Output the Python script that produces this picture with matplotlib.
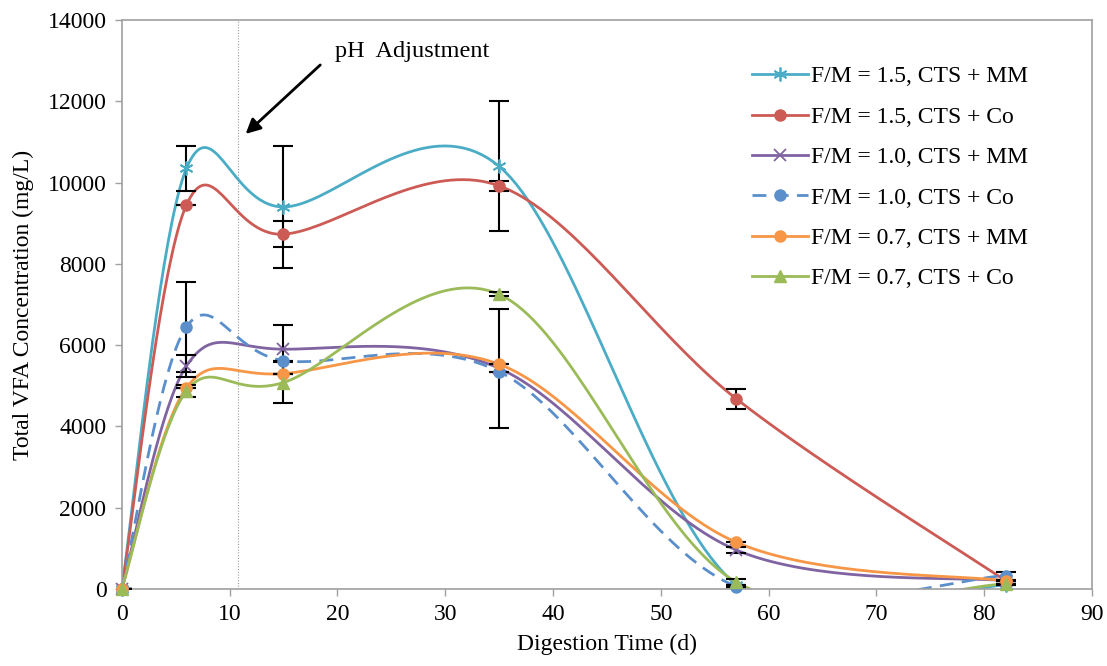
import numpy as np
import matplotlib
matplotlib.use("Agg")
import matplotlib.pyplot as plt

plt.rcParams["font.family"] = ["Liberation Serif", "DejaVu Serif"]

days = [0, 6, 15, 35, 57, 82]

labels = [
    "F/M = 1.5, CTS + MM",
    "F/M = 1.5, CTS + Co",
    "F/M = 1.0, CTS + MM",
    "F/M = 1.0, CTS + Co",
    "F/M = 0.7, CTS + MM",
    "F/M = 0.7, CTS + Co",
]

vfa_15_mm = [0, 10350, 9400, 10400, 100, 100]
vfa_15_co = [0, 9450, 8730, 9920, 4680, 200]
vfa_10_mm = [0, 5490, 5900, 5430, 960, 200]
vfa_10_co = [0, 6450, 5620, 5350, 60, 330]
vfa_07_mm = [0, 4950, 5300, 5530, 1150, 200]
vfa_07_co = [0, 4870, 5080, 7250, 170, 120]

err_15_mm = [0, 550, 1500, 1600, 0, 0]
err_15_co = [0, 0, 320, 120, 250, 0]
err_10_mm = [0, 270, 600, 1460, 80, 0]
err_10_co = [0, 1100, 0, 0, 0, 100]
err_07_mm = [0, 0, 0, 0, 0, 0]
err_07_co = [0, 150, 500, 50, 80, 0]

series = [vfa_15_mm, vfa_15_co, vfa_10_mm, vfa_10_co, vfa_07_mm, vfa_07_co]
errors = [err_15_mm, err_15_co, err_10_mm, err_10_co, err_07_mm, err_07_co]
colors = ["#4BACC6", "#CD5B55", "#8064A2", "#5B8FCB", "#F79646", "#9BBB59"]
markers = [(6, 2, 0), "o", "x", "o", "o", "^"]
styles = ["-", "-", "-", (0, (5, 3)), "-", "-"]

ph_day = 10.75


def excel_smooth(xs, ys, n=40):
    # Excel-style smoothed line: cubic Bezier segments, tangents from neighbours
    pts = np.column_stack([xs, ys]).astype(float)
    out = [pts[0]]
    t = np.linspace(0, 1, n)[1:, None]
    for i in range(len(pts) - 1):
        p0 = pts[i - 1] if i > 0 else pts[i]
        p1, p2 = pts[i], pts[i + 1]
        p3 = pts[i + 2] if i + 2 < len(pts) else pts[i + 1]
        c1 = p1 + (p2 - p0) / 6
        c2 = p2 - (p3 - p1) / 6
        seg = (1 - t) ** 3 * p1 + 3 * (1 - t) ** 2 * t * c1 + 3 * (1 - t) * t ** 2 * c2 + t ** 3 * p2
        out.extend(seg)
    return np.array(out)


fig = plt.figure(figsize=(11.07, 6.66), dpi=100)
ax = fig.add_axes([0.110, 0.1156, 0.8765, 0.8544])

for vals, err, col, mk, ls, lab in zip(series, errors, colors, markers, styles, labels):
    curve = excel_smooth(days, vals)
    star = isinstance(mk, tuple)
    ms = 10 if star else 8
    mew = 1.3 if (star or mk == "x") else 1
    ax.plot(curve[:, 0], curve[:, 1], color=col, lw=2, linestyle=ls, zorder=2)
    ax.errorbar(days, vals, yerr=err, fmt="none", ecolor="black",
                elinewidth=1.5, capsize=7, capthick=1.5, zorder=3)
    ax.plot(days, vals, linestyle="none", marker=mk, ms=ms, color=col,
            mew=mew, zorder=4, clip_on=False)
    ax.plot([], [], color=col, lw=2, linestyle=ls, marker=mk, ms=ms,
            mew=mew, label=lab)

ax.axvline(ph_day, color="#999999", lw=0.8, linestyle=(0, (1, 1.5)), zorder=1)
ax.annotate("", xy=(11.3, 11150), xytext=(18.6, 12940),
            arrowprops=dict(arrowstyle="-|>", color="black", lw=2,
                            mutation_scale=22))
ax.text(19.8, 13230, "pH  Adjustment", fontsize=17.5, va="center", ha="left")

ax.set_xlim(0, 90)
ax.set_ylim(0, 14000)
ax.set_xticks(range(0, 91, 10))
ax.set_yticks(range(0, 14001, 2000))
ax.tick_params(direction="out", length=5, width=1, color="#A0A0A0",
               labelsize=17, pad=6)
for sp in ax.spines.values():
    sp.set_color("#A0A0A0")
    sp.set_linewidth(1.2)

ax.set_xlabel("Digestion Time (d)", fontsize=17, labelpad=6)
ax.set_ylabel("Total VFA Concentration (mg/L)", fontsize=17, labelpad=10)

ax.legend(loc="upper left", bbox_to_anchor=(0.64, 0.936), frameon=False,
          fontsize=17, handlelength=2.35, handletextpad=0.15,
          labelspacing=0.8, borderaxespad=0)

fig.savefig("out.png", dpi=100)
plt.close(fig)
